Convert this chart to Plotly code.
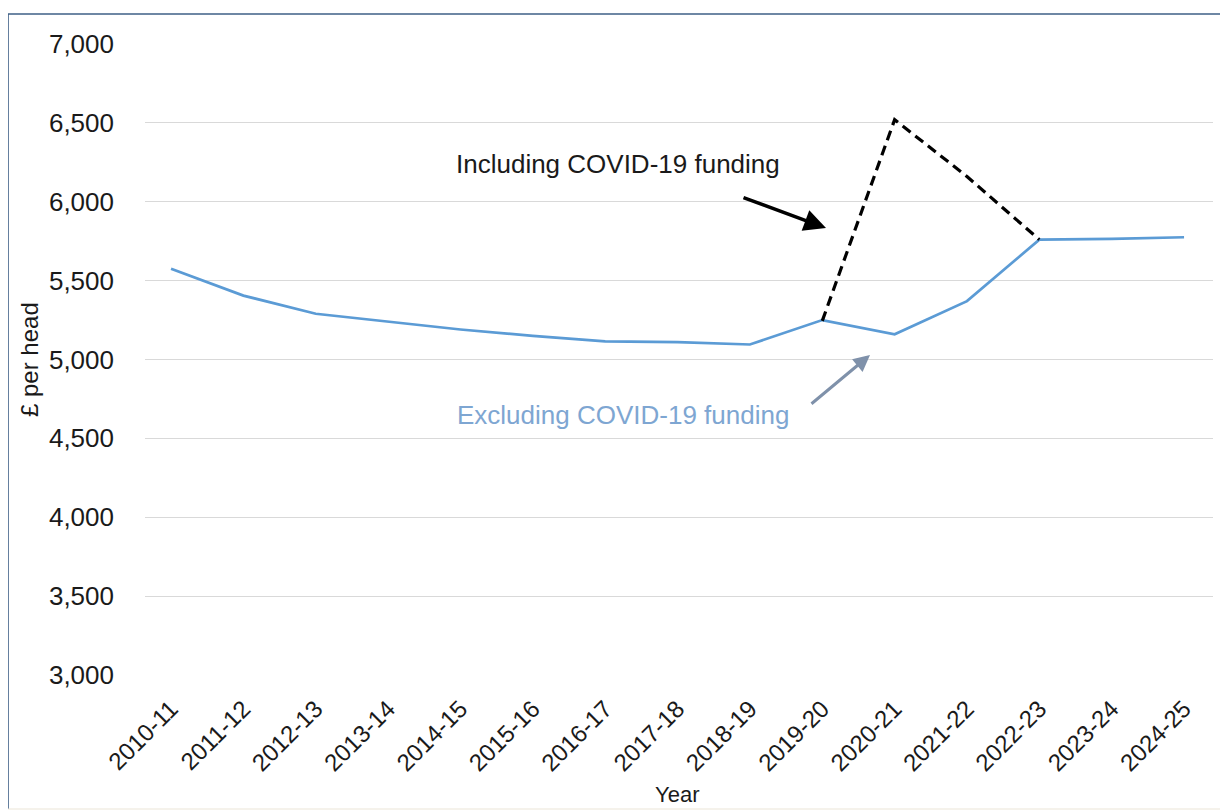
import plotly.graph_objects as go

years = ["2010-11", "2011-12", "2012-13", "2013-14", "2014-15", "2015-16", "2016-17",
         "2017-18", "2018-19", "2019-20", "2020-21", "2021-22", "2022-23", "2023-24", "2024-25"]
excluding_covid = [5575, 5405, 5290, 5240, 5190, 5150, 5115, 5110, 5095, 5250, 5160, 5370, 5760, 5765, 5775]
including_years = ["2019-20", "2020-21", "2021-22", "2022-23"]
including_covid = [5245, 6520, 6160, 5760]
y_ticks = [3000, 3500, 4000, 4500, 5000, 5500, 6000, 6500, 7000]

FONT = "Liberation Sans, Arial, sans-serif"
BLUE = "#5B9BD5"

fig = go.Figure()
fig.add_trace(go.Scatter(x=years, y=excluding_covid, mode="lines",
                         line=dict(color=BLUE, width=2.7), showlegend=False))
fig.add_trace(go.Scatter(x=including_years, y=including_covid, mode="lines",
                         line=dict(color="black", width=3.2, dash="10px,6px"), showlegend=False))

# screenshot geometry (page body has an 8px margin)
OFF = 8
L, R, T, B = 145, 1213, 44, 675
W, H = 1228 - OFF, 811 - OFF
pw, ph = R - L, B - T

def px(xp):
    return (xp - L) / pw

def py(yp):
    return (B - yp) / ph

fig.update_layout(
    width=W, height=H,
    margin=dict(l=L - OFF, r=W - (R - OFF), t=T - OFF, b=H - (B - OFF)),
    paper_bgcolor="white", plot_bgcolor="white",
    font=dict(family=FONT, color="#1a1a1a"),
    xaxis=dict(type="category", categoryorder="array", categoryarray=years,
               range=[-0.36, 14.4], showgrid=False, zeroline=False, showline=False,
               ticks="", tickangle=-45, ticklabelstandoff=14,
               tickfont=dict(size=24, family=FONT, color="#1a1a1a")),
    yaxis=dict(range=[3000, 7000], tickvals=y_ticks, tickformat=",d",
               showgrid=True, gridcolor="#d9d9d9", gridwidth=1.2, zeroline=False,
               showline=False, ticks="", ticklabelstandoff=30,
               tickfont=dict(size=26, family=FONT, color="#1a1a1a")),
)

annotations = [
    dict(text="Including COVID-19 funding", x=px(618), y=py(164), xref="paper", yref="paper",
         xanchor="center", yanchor="middle",
         showarrow=False, font=dict(size=26, color="#1a1a1a", family=FONT)),
    dict(text="Excluding COVID-19 funding", x=px(623), y=py(415), xref="paper", yref="paper",
         xanchor="center", yanchor="middle",
         showarrow=False, font=dict(size=26, color="#7EA6D2", family=FONT)),
    dict(text="", x=px(826), y=py(228), xref="paper", yref="paper",
         ax=-84, ay=-31, showarrow=True, arrowhead=2, arrowsize=1.25, arrowwidth=3.5,
         arrowcolor="black"),
    dict(text="", x=px(870), y=py(355), xref="paper", yref="paper",
         ax=-60, ay=50, showarrow=True, arrowhead=2, arrowsize=1.1, arrowwidth=3,
         arrowcolor="#7F91AA"),
    dict(text="£ per head", x=px(29), y=py(360), xref="paper", yref="paper",
         xanchor="center", yanchor="middle",
         showarrow=False, textangle=-90, font=dict(size=24, color="#1a1a1a", family=FONT)),
    dict(text="Year", x=px(677), y=py(794), xref="paper", yref="paper",
         xanchor="center", yanchor="middle",
         showarrow=False, font=dict(size=22, color="#1a1a1a", family=FONT)),
]
fig.update_layout(annotations=annotations)

# frame: dark top and left edges, faint right and bottom edges
fig.add_shape(type="line", xref="paper", yref="paper", x0=px(8), x1=px(1228), y0=py(14), y1=py(14),
              line=dict(color="#3E5F86", width=1.6))
fig.add_shape(type="line", xref="paper", yref="paper", x0=px(8), x1=px(8), y0=py(14), y1=py(809),
              line=dict(color="#3E5F86", width=1.6))
fig.add_shape(type="line", xref="paper", yref="paper", x0=px(1221), x1=px(1221), y0=py(14), y1=py(809),
              line=dict(color="#d9dde3", width=1.2))
fig.add_shape(type="line", xref="paper", yref="paper", x0=px(8), x1=px(1221), y0=py(809), y1=py(809),
              line=dict(color="#ece6d8", width=1.2))

fig.write_html("out.html")
